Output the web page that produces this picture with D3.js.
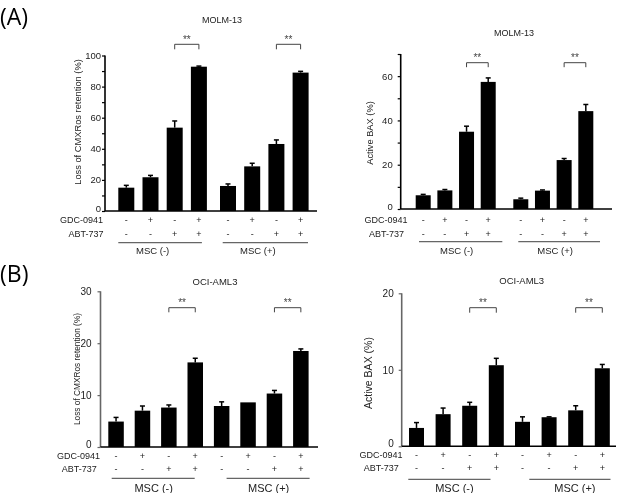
<!DOCTYPE html>
<html><head><meta charset="utf-8">
<script src="https://cdn.jsdelivr.net/npm/d3@7"></script>
<style>body{margin:0;background:#fff}svg{filter:grayscale(100%)}svg text{font-family:"Liberation Sans",Arial,sans-serif}</style>
</head><body><svg id="c" width="617" height="493"></svg>
<script>
// ---- data ----
const groups = ["MSC (-)", "MSC (+)"];
const conditions = ["c1", "c2", "c3", "c4"];
const gdcSigns = ["-", "+", "-", "+"];
const abtSigns = ["-", "-", "+", "+"];
const rowLabels = ["GDC-0941", "ABT-737"];

const molmCMX = [15.0, 21.7, 53.6, 92.8, 16.1, 28.7, 43.1, 89.0];
const molmCMXErr = [1.5, 1.2, 4.3, 0.4, 1.3, 2.0, 2.6, 0.8];
const molmBAX = [6.2, 8.4, 34.9, 57.4, 4.4, 8.3, 22.1, 44.2];
const molmBAXErr = [0.4, 0.4, 2.5, 1.8, 0.5, 0.3, 0.7, 3.0];
const ociCMX = [4.9, 7.0, 7.6, 16.3, 7.9, 8.6, 10.3, 18.5];
const ociCMXErr = [0.8, 0.9, 0.5, 0.8, 0.8, 0.0, 0.6, 0.4];
const ociBAX = [2.4, 4.2, 5.3, 10.6, 3.2, 3.8, 4.7, 10.2];
const ociBAXErr = [0.7, 0.8, 0.45, 0.9, 0.65, 0.05, 0.6, 0.5];

const yTicksA1 = [0, 10, 20, 30, 40, 50, 60, 70, 80, 90, 100];
const yTicksA2 = [0, 10, 20, 30, 40, 50, 60, 70];
const yTicksB1 = [0, 10, 20, 30];
const yTicksB2 = [0, 10, 20];
const sigLabel = "**";

// ---- layout ----
const charts = [
  {title:"MOLM-13", ylabel:"Loss of CMXRos retention (%)", vals:molmCMX, errs:molmCMXErr, ymax:100, ticks:yTicksA1, labelEvery:20,
   ax:105, axEnd:317, y0:211, yTop:55.5, b1:118.3, w:16, s:24.2, G:101.7, tickPad:1, yAxisColor:"#000",
   tx:222, ty:23, tfs:9, ylx:78, yly:122, ylfs:9.3, rowY:[219.8,233.5], rowR:[103,103.5], rfs:9,
   ul:[[0,-5],[2.7,-0.6]], ulY:242.7, mscDx:-7.5, mscY:253.5, mfs:9.5, brY:44.3, brD:5, sfs:10, tickFs:9.5},
  {title:"MOLM-13", ylabel:"Active BAX (%)", vals:molmBAX, errs:molmBAXErr, ymax:70, ticks:yTicksA2, labelEvery:20,
   ax:400.7, axEnd:612, y0:209, yTop:54, b1:415.7, w:15, s:21.67, G:97.6, tickPad:5, yAxisColor:"#000",
   tx:514, ty:35.5, tfs:9, ylx:370, yly:133, ylfs:9.3, rowY:[220.3,233.5], rowR:[407.5,404], rfs:9,
   ul:[[3.3,6.6],[5,6.7]], ulY:241.7, mscDx:-4, mscY:253.5, mfs:9.5, brY:62.7, brD:4.5, sfs:10, tickFs:9.5},
  {title:"OCI-AML3", ylabel:"Loss of CMXRos retention (%)", vals:ociCMX, errs:ociCMXErr, ymax:30, ticks:yTicksB1, labelEvery:10,
   ax:100.5, axEnd:318, y0:447, yTop:291.3, b1:108.3, w:15.5, s:26.4, G:105.6, tickPad:6, yAxisColor:"#666",
   tx:215, ty:285, tfs:9.5, ylx:77, yly:369, ylfs:8.3, rowY:[456,469], rowR:[100,96.7], rfs:9,
   ul:[[3.4,-8.3],[12.7,1]], ulY:478.3, mscDx:0.5, mscY:491.5, mfs:11, brY:307.7, brD:4.6, sfs:10, tickFs:10},
  {title:"OCI-AML3", ylabel:"Active BAX (%)", vals:ociBAX, errs:ociBAXErr, ymax:20, ticks:yTicksB2, labelEvery:10,
   ax:401.7, axEnd:616, y0:446.3, yTop:293.3, b1:409, w:15, s:26.6, G:106, tickPad:5, yAxisColor:"#666",
   tx:521.7, ty:283.5, tfs:9.5, ylx:368, yly:373, ylfs:10.5, rowY:[455,468], rowR:[402.5,398.7], rfs:9,
   ul:[[-0.7,-13.3],[14.3,0.7]], ulY:479.3, mscDx:5, mscY:491.5, mfs:11, brY:307.7, brD:5, sfs:10, tickFs:10}
];

const svg = d3.select("#c");
const textCol = "#222";

// panel letters
svg.append("text").attr("x", 0).attr("y", 25).attr("font-size", 23).style("font-family", "'Open Sans',sans-serif").attr("fill", "#000").text("(A)");
svg.append("text").attr("x", 0).attr("y", 282).attr("font-size", 23).style("font-family", "'Open Sans',sans-serif").attr("fill", "#000").text("(B)");

charts.forEach(c => {
  const g = svg.append("g");
  const innerLen = 3 * c.s + c.w;
  const outer = d3.scaleBand().domain(groups).range([c.b1, c.b1 + c.G + innerLen]).paddingInner(1 - innerLen / (c.G)).paddingOuter(0);
  const inner = d3.scaleBand().domain(conditions).range([0, innerLen]).paddingInner(1 - c.w / c.s).paddingOuter(0);
  const y = d3.scaleLinear().domain([0, c.ymax]).range([c.y0, c.yTop]);

  const data = [];
  groups.forEach((gr, gi) => conditions.forEach((cd, ci) => {
    const i = gi * 4 + ci;
    data.push({gr, cd, ci, v: c.vals[i], e: c.errs[i]});
  }));
  const cx = d => outer(d.gr) + inner(d.cd) + inner.bandwidth() / 2;

  // y axis
  const axis = d3.axisLeft(y).tickValues(c.ticks).tickSize(3).tickPadding(c.tickPad)
    .tickFormat(v => (v % c.labelEvery === 0) ? v : "");
  const ag = g.append("g").attr("transform", `translate(${c.ax},0)`).call(axis);
  ag.select(".domain").attr("stroke", c.yAxisColor).attr("stroke-width", 1.6).attr("d", `M0,${c.y0}V${c.yTop}`);
  ag.selectAll(".tick line").attr("stroke", c.yAxisColor).attr("stroke-width", 1.2);
  ag.selectAll(".tick text").attr("fill", textCol).attr("font-size", c.tickFs).style("font-family", "'Liberation Sans',Arial,sans-serif")
    .attr("dy", v => v === 0 ? "0.05em" : "0.32em");

  // bars
  g.selectAll("rect.bar").data(data).join("rect").attr("class", "bar")
    .attr("x", d => outer(d.gr) + inner(d.cd)).attr("width", inner.bandwidth())
    .attr("y", d => y(d.v)).attr("height", d => y(0) - y(d.v)).attr("fill", "#000");
  // error bars
  data.filter(d => d.e > 0).forEach(d => {
    const x = cx(d);
    g.append("line").attr("x1", x).attr("x2", x).attr("y1", y(d.v)).attr("y2", y(d.v + d.e)).attr("stroke", "#000").attr("stroke-width", 1.5);
    g.append("line").attr("x1", x - 2.5).attr("x2", x + 2.5).attr("y1", y(d.v + d.e)).attr("y2", y(d.v + d.e)).attr("stroke", "#000").attr("stroke-width", 1.5);
  });

  // x axis line
  g.append("line").attr("x1", c.ax).attr("x2", c.axEnd).attr("y1", y(0)).attr("y2", y(0)).attr("stroke", "#000").attr("stroke-width", 1.6);

  // title
  g.append("text").attr("x", c.tx).attr("y", c.ty).attr("text-anchor", "middle").attr("font-size", c.tfs).attr("fill", textCol).text(c.title);
  // y label
  g.append("text").attr("transform", `translate(${c.ylx},${c.yly}) rotate(-90)`).attr("text-anchor", "middle").attr("dy", "0.35em")
    .attr("font-size", c.ylfs).attr("fill", textCol).text(c.ylabel);

  // row labels and signs
  [gdcSigns, abtSigns].forEach((signs, ri) => {
    g.append("text").attr("x", c.rowR[ri]).attr("y", c.rowY[ri]).attr("dy", "0.35em").attr("text-anchor", "end")
      .attr("font-size", c.rfs).attr("fill", textCol).text(rowLabels[ri]);
    g.selectAll(null).data(data).join("text").attr("x", d => cx(d)).attr("y", c.rowY[ri]).attr("dy", "0.35em")
      .attr("text-anchor", "middle").attr("font-size", c.rfs).attr("fill", textCol).text(d => signs[d.ci]);
  });

  // group underlines, labels, significance brackets
  groups.forEach((gr, gi) => {
    const xa = outer(gr) + c.ul[gi][0], xb = outer(gr) + innerLen + c.ul[gi][1];
    g.append("line").attr("x1", xa).attr("x2", xb).attr("y1", c.ulY).attr("y2", c.ulY).attr("stroke", "#666").attr("stroke-width", 1.2);
    g.append("text").attr("x", (xa + xb) / 2 + c.mscDx).attr("y", c.mscY).attr("text-anchor", "middle")
      .attr("font-size", c.mfs).attr("fill", textCol).text(gr);
    const xl = outer(gr) + inner(conditions[2]) + inner.bandwidth() / 2;
    const xr = outer(gr) + inner(conditions[3]) + inner.bandwidth() / 2;
    g.append("path").attr("d", `M${xl},${c.brY + c.brD}V${c.brY}H${xr}V${c.brY + c.brD}`)
      .attr("fill", "none").attr("stroke", "#444").attr("stroke-width", 1);
    g.append("text").attr("x", (xl + xr) / 2).attr("y", c.brY - 1.5).attr("text-anchor", "middle")
      .attr("font-size", c.sfs).attr("fill", "#444").text(sigLabel);
  });
});
</script></body></html>
